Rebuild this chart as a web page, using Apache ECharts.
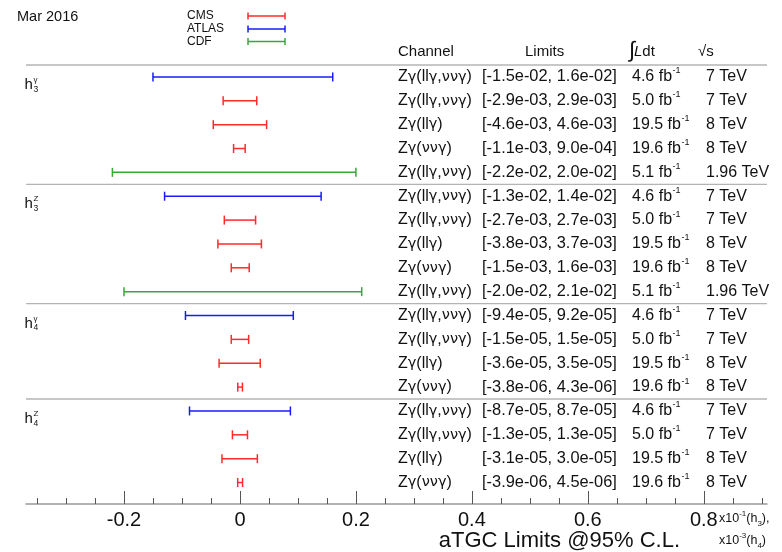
<!DOCTYPE html>
<html><head><meta charset="utf-8">
<script src="https://cdn.jsdelivr.net/npm/echarts@6/dist/echarts.min.js"></script>
<style>html,body{margin:0;padding:0;background:#fff}#c{width:782px;height:552px}</style>
</head><body><div id="c"></div>
<script>
// ---------------- data ----------------
const groupSup = ['γ', 'Z', 'γ', 'Z'];
const groupSub = ['3', '3', '4', '4'];
const groupScale = [10, 10, 1000, 1000];           // x10^-1 (h3), x10^-3 (h4)
const rowGroup = [0,0,0,0,0, 1,1,1,1,1, 2,2,2,2, 3,3,3,3];
const experiments = ['ATLAS','CMS','CMS','CMS','CDF', 'ATLAS','CMS','CMS','CMS','CDF',
                     'ATLAS','CMS','CMS','CMS', 'ATLAS','CMS','CMS','CMS'];
const channels = ['Zγ(llγ,ννγ)','Zγ(llγ,ννγ)','Zγ(llγ)','Zγ(ννγ)','Zγ(llγ,ννγ)',
                  'Zγ(llγ,ννγ)','Zγ(llγ,ννγ)','Zγ(llγ)','Zγ(ννγ)','Zγ(llγ,ννγ)',
                  'Zγ(llγ,ννγ)','Zγ(llγ,ννγ)','Zγ(llγ)','Zγ(ννγ)',
                  'Zγ(llγ,ννγ)','Zγ(llγ,ννγ)','Zγ(llγ)','Zγ(ννγ)'];
const lowerLimits = [-1.5e-2, -2.9e-3, -4.6e-3, -1.1e-3, -2.2e-2,
                     -1.3e-2, -2.7e-3, -3.8e-3, -1.5e-3, -2.0e-2,
                     -9.4e-5, -1.5e-5, -3.6e-5, -3.8e-6,
                     -8.7e-5, -1.3e-5, -3.1e-5, -3.9e-6];
const upperLimits = [1.6e-2, 2.9e-3, 4.6e-3, 9.0e-4, 2.0e-2,
                     1.4e-2, 2.7e-3, 3.7e-3, 1.6e-3, 2.1e-2,
                     9.2e-5, 1.5e-5, 3.5e-5, 4.3e-6,
                     8.7e-5, 1.3e-5, 3.0e-5, 4.5e-6];
const luminosities = ['4.6','5.0','19.5','19.6','5.1', '4.6','5.0','19.5','19.6','5.1',
                      '4.6','5.0','19.5','19.6', '4.6','5.0','19.5','19.6'];
const energies = ['7','7','8','8','1.96', '7','7','8','8','1.96',
                  '7','7','8','8', '7','7','8','8'];
const separators = [0.5, 5.5, 10.5, 14.5];
const xTickLabels = [-0.2, 0, 0.2, 0.4, 0.6, 0.8];
const legendNames = ['CMS', 'ATLAS', 'CDF'];

// ---------------- styles ----------------
const FF = '"Liberation Sans", Arial, Helvetica, sans-serif';
const FG = '"DejaVu Sans", "Liberation Sans", sans-serif';
const expColor = { CMS: '#ff2a2a', ATLAS: '#1a1aff', CDF: '#36a836' };
const X_MIN = -0.369, X_MAX = 0.909;

const cv = document.createElement('canvas').getContext('2d');
function tw(t, font) { cv.font = font; return cv.measureText(t).width; }
function f(size, italic, fam) { return (italic ? 'italic ' : '') + size + 'px ' + (fam || FF); }
// sequence of text pieces: {t, size, dy, dx, italic, fam}
function runs(x, y, parts, color) {
  const out = [];
  let cx = x;
  parts.forEach(p => {
    const font = f(p.size, p.italic, p.fam);
    out.push({ type: 'text', silent: true,
      style: { text: p.t, x: cx + (p.dx || 0), y: y + (p.dy || 0), font: font, fill: color || '#111',
               textAlign: 'left', textVerticalAlign: 'middle' } });
    cx += tw(p.t, font) + (p.dx || 0);
  });
  out.endX = cx;
  return out;
}
// split channel string so Greek letters use a wider glyph font
function channelParts(s, size) {
  const parts = [];
  for (const ch of s) {
    const greek = /[γν]/.test(ch);
    parts.push({ t: ch, size: greek ? size - 1.5 : size, fam: greek ? FG : FF });
  }
  return parts;
}
function fmtE(v) {
  return v.toExponential(1).replace(/e([+-])(\d)$/, 'e$10$2');
}

const rowIdx = channels.map((_, i) => i);
const barData = rowIdx.map(i => {
  const s = groupScale[rowGroup[i]];
  return [lowerLimits[i] * s, upperLimits[i] * s, i + 1, i];
});
const tableData = rowIdx.map(i => [0, i + 1, i]);
const groupData = groupSup.map((_, g) => [0, rowGroup.indexOf(g) + 1, g]);
const sepData = separators.map(v => [0, v]);

const minorTicks = [];
for (let k = -7; k <= 18; k++) { if (k % 4 !== 0) minorTicks.push(Math.round(k * 5) / 100); }

const chart = echarts.init(document.getElementById('c'), null, { renderer: 'canvas' });

const graphics = [];
graphics.push({ type: 'text', x: 17, y: 17, style: { text: 'Mar 2016', font: f(14.5), fill: '#111', textVerticalAlign: 'middle' } });
const legY = [16, 29, 41.5];
legendNames.forEach((n, k) => {
  graphics.push({ type: 'text', x: 187, y: legY[k], style: { text: n, font: f(12), fill: '#111', textVerticalAlign: 'middle' } });
  const c = expColor[n];
  graphics.push({ type: 'line', shape: { x1: 248, y1: legY[k], x2: 285, y2: legY[k] }, style: { stroke: c, lineWidth: 1.5 } });
  graphics.push({ type: 'line', shape: { x1: 248, y1: legY[k] - 3.5, x2: 248, y2: legY[k] + 3.5 }, style: { stroke: c, lineWidth: 1.5 } });
  graphics.push({ type: 'line', shape: { x1: 285, y1: legY[k] - 3.5, x2: 285, y2: legY[k] + 3.5 }, style: { stroke: c, lineWidth: 1.5 } });
});
// header
graphics.push({ type: 'text', x: 398, y: 52, style: { text: 'Channel', font: f(15), fill: '#111', textVerticalAlign: 'middle' } });
graphics.push({ type: 'text', x: 525, y: 52, style: { text: 'Limits', font: f(15), fill: '#111', textVerticalAlign: 'middle' } });
runs(629, 52, [{ t: '∫', size: 22, dy: -1 }, { t: 'L', size: 15, italic: true, dx: -1 }, { t: 'dt', size: 15 }]).forEach(e => graphics.push(e));
runs(698, 52, [{ t: '√', size: 15 }, { t: 's', size: 15 }]).forEach(e => graphics.push(e));
// axis title & units
graphics.push({ type: 'text', x: 680, y: 541, style: { text: 'aTGC Limits @95% C.L.', font: f(22), fill: '#111', textAlign: 'right', textVerticalAlign: 'middle' } });
runs(719, 519, [{ t: 'x10', size: 12.5 }, { t: '-1', size: 8, dy: -5 }, { t: '(h', size: 12.5 }, { t: '3', size: 8, dy: 5 }, { t: '),', size: 12.5 }]).forEach(e => graphics.push(e));
runs(719, 541, [{ t: 'x10', size: 12.5 }, { t: '-3', size: 8, dy: -5 }, { t: '(h', size: 12.5 }, { t: '4', size: 8, dy: 5 }, { t: ')', size: 12.5 }]).forEach(e => graphics.push(e));

const option = {
  backgroundColor: '#fff',
  animation: false,
  grid: { left: 26, right: 15, top: 65, bottom: 48 },
  xAxis: [{
    type: 'value', min: X_MIN, max: X_MAX, position: 'bottom',
    axisLine: { show: true, lineStyle: { color: '#9a9a9a', width: 1.5 } },
    axisTick: { show: true, inside: true, length: 13, customValues: xTickLabels, lineStyle: { color: '#555', width: 1 } },
    axisLabel: { show: true, customValues: xTickLabels, margin: 6, fontSize: 20, fontFamily: FF, color: '#111',
                 formatter: v => (Math.abs(v) < 1e-9 ? '0' : String(Math.round(v * 10) / 10)) },
    splitLine: { show: false }
  }, {
    type: 'value', min: X_MIN, max: X_MAX, position: 'bottom',
    axisLine: { show: false },
    axisTick: { show: true, inside: true, length: 6, customValues: minorTicks, lineStyle: { color: '#555', width: 1 } },
    axisLabel: { show: false },
    splitLine: { show: false }
  }],
  yAxis: { type: 'value', min: 0.5, max: 18.9, inverse: true, show: false },
  graphic: graphics,
  series: [{
    type: 'custom', name: 'separators', silent: true, data: sepData,
    renderItem: (params, api) => {
      const y = api.value(1);
      const a = api.coord([X_MIN, y]), b = api.coord([X_MAX, y]);
      return { type: 'line', shape: { x1: a[0], y1: a[1], x2: b[0], y2: b[1] }, style: { stroke: '#b4b4b4', lineWidth: 1.3 } };
    }
  }, {
    type: 'custom', name: 'limits', silent: true, data: barData, encode: { x: [0, 1], y: 2 },
    renderItem: (params, api) => {
      const r = api.value(2);
      const a = api.coord([api.value(0), r]), b = api.coord([api.value(1), r]);
      const c = expColor[experiments[api.value(3)]];
      const st = { stroke: c, lineWidth: 1.5 };
      return { type: 'group', children: [
        { type: 'line', shape: { x1: a[0], y1: a[1], x2: b[0], y2: b[1] }, style: st },
        { type: 'line', shape: { x1: a[0], y1: a[1] - 4.5, x2: a[0], y2: a[1] + 4.5 }, style: st },
        { type: 'line', shape: { x1: b[0], y1: b[1] - 4.5, x2: b[0], y2: b[1] + 4.5 }, style: st }
      ] };
    }
  }, {
    type: 'custom', name: 'table', silent: true, data: tableData, encode: { x: 0, y: 1 },
    renderItem: (params, api) => {
      const i = api.value(2);
      const y = api.coord([0, api.value(1)])[1];
      const ch = [];
      runs(398, y, channelParts(channels[i], 16)).forEach(e => ch.push(e));
      ch.push({ type: 'text', style: { text: '[' + fmtE(lowerLimits[i]) + ', ' + fmtE(upperLimits[i]) + ']', x: 482, y: y, font: f(16.4), fill: '#111', textVerticalAlign: 'middle' } });
      const lum = runs(632, y, [{ t: luminosities[i] + ' fb', size: 16 }, { t: '-1', size: 9, dy: -6, dx: 0.5 }]);
      lum.forEach(e => ch.push(e));
      const ex = Math.max(706, lum.endX + 3);
      ch.push({ type: 'text', style: { text: energies[i] + ' TeV', x: ex, y: y, font: f(16), fill: '#111', textVerticalAlign: 'middle' } });
      return { type: 'group', children: ch };
    }
  }, {
    type: 'custom', name: 'couplings', silent: true, data: groupData, encode: { x: 0, y: 1 },
    renderItem: (params, api) => {
      const g = api.value(2);
      const y = api.coord([0, api.value(1)])[1] + 8;
      return { type: 'group', children: [
        { type: 'text', style: { text: 'h', x: 24.5, y: y, font: f(15), fill: '#111', textVerticalAlign: 'middle' } },
        { type: 'text', style: { text: groupSup[g], x: 33.5, y: y - 5, font: f(8), fill: '#111', textVerticalAlign: 'middle' } },
        { type: 'text', style: { text: groupSub[g], x: 33.5, y: y + 4.5, font: f(8.5), fill: '#111', textVerticalAlign: 'middle' } }
      ] };
    }
  }]
};
chart.setOption(option);
</script>
</body></html>
